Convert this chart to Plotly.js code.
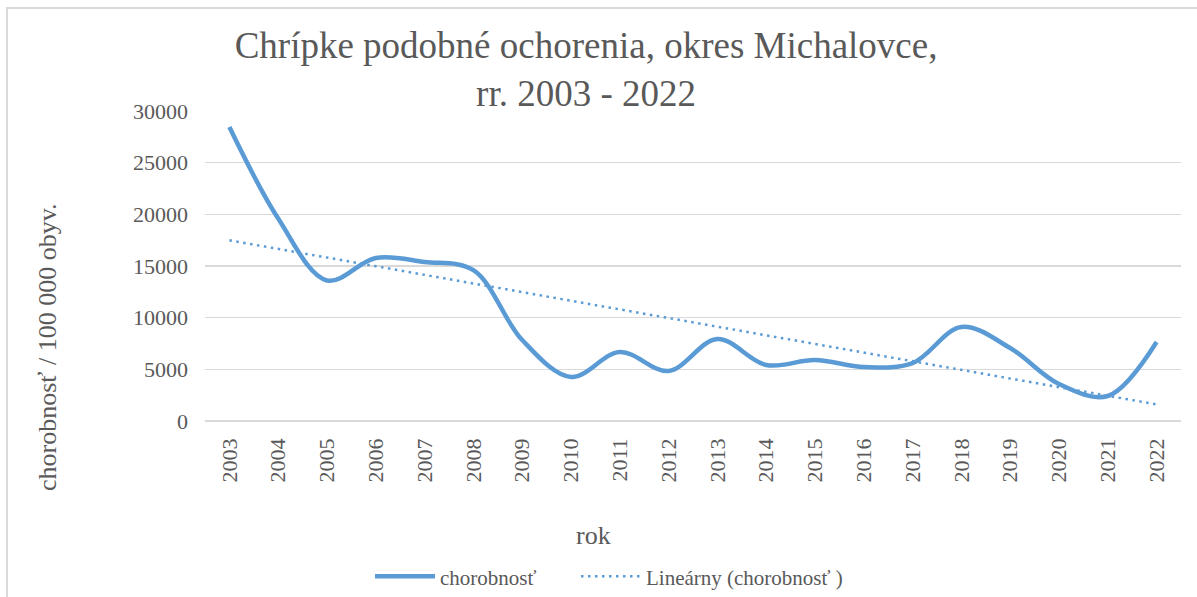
<!DOCTYPE html>
<html>
<head>
<meta charset="utf-8">
<script src="https://cdn.plot.ly/plotly-3.0.1.min.js"></script>
<style>
html,body{margin:0;padding:0;background:#fff;overflow:hidden;}
#wrap{position:relative;width:1197px;height:597px;}
#chart{width:1197px;height:597px;}
#frame{position:absolute;left:6px;top:7px;width:1300px;height:700px;border:2px solid #d9d9d9;pointer-events:none;}
</style>
</head>
<body>
<div id="wrap"><div id="chart"></div><div id="frame"></div></div>
<script>
const years = ['2003','2004','2005','2006','2007','2008','2009','2010','2011','2012','2013','2014','2015','2016','2017','2018','2019','2020','2021','2022'];
const chorobnost = [28450,19600,13600,15770,15390,14600,7840,4260,6680,4840,7935,5420,5900,5225,5600,9100,7060,3580,2420,7645];
const yTicks = [0,5000,10000,15000,20000,25000,30000];
const xTitle = 'rok';
const yTitle = 'chorobnosť / 100 000 obyv.';

// linear trend (least squares) of the series, as Excel's "Lineárny" trendline
const n = chorobnost.length;
const xs = chorobnost.map((_, i) => i + 1);
const mx = xs.reduce((a, b) => a + b, 0) / n;
const my = chorobnost.reduce((a, b) => a + b, 0) / n;
let sxy = 0, sxx = 0;
for (let i = 0; i < n; i++) { sxy += (xs[i] - mx) * (chorobnost[i] - my); sxx += (xs[i] - mx) * (xs[i] - mx); }
const slope = sxy / sxx, intercept = my - slope * mx;
const trend = xs.map(x => intercept + slope * x);

const serif = 'Liberation Serif';
const grey = '#595959';
const blue = '#5b9bd5';

const data = [
  {x: years, y: chorobnost, type: 'scatter', mode: 'lines', name: 'chorobnosť', legend: 'legend',
   line: {color: blue, width: 4.5, shape: 'spline', smoothing: 1}},
  {x: years, y: trend, type: 'scatter', mode: 'lines', name: 'Lineárny (chorobnosť )', legend: 'legend2',
   line: {color: blue, width: 2.5, dash: '2.5px,4.5px'}}
];

const legendBase = {orientation: 'h', xref: 'container', yref: 'container', xanchor: 'left',
  y: 0.034, yanchor: 'middle', font: {family: serif, size: 21, color: grey},
  itemwidth: 60, bgcolor: 'rgba(0,0,0,0)'};

const layout = {
  width: 1197, height: 597,
  margin: {l: 205, r: 16, t: 111, b: 176},
  paper_bgcolor: '#fff', plot_bgcolor: '#fff',
  font: {family: serif, color: grey},
  title: {text: 'Chrípke podobné ochorenia, okres Michalovce,<br>rr. 2003 - 2022',
          font: {family: serif, size: 37, color: grey},
          xref: 'container', x: 0.4896, xanchor: 'center',
          yref: 'container', y: 0.903, yanchor: 'top'},
  xaxis: {type: 'category', range: [-0.5, 19.5], tickangle: -90,
          tickfont: {family: serif, size: 22, color: grey},
          showgrid: false, showline: false, zeroline: false, ticks: '',
          ticklabelstandoff: 12, automargin: false},
  yaxis: {range: [0, 30000], tickvals: yTicks, ticktext: yTicks.map(String),
          tickfont: {family: serif, size: 22, color: grey},
          showgrid: true, gridcolor: '#d9d9d9', gridwidth: 1.3,
          zeroline: true, zerolinecolor: '#d9d9d9', zerolinewidth: 1.3,
          showline: false, ticks: '', ticklabelstandoff: 16, automargin: false},
  annotations: [
    {text: xTitle, xref: 'paper', yref: 'paper', x: (593 - 205) / 976, y: -(535 - 421) / 310,
     xanchor: 'center', yanchor: 'middle', showarrow: false,
     font: {family: serif, size: 26, color: grey}},
    {text: yTitle, xref: 'paper', yref: 'paper', x: (47 - 205) / 976, y: -(348 - 421) / 310,
     xanchor: 'center', yanchor: 'middle', showarrow: false, textangle: -90,
     font: {family: serif, size: 26, color: grey}}
  ],
  showlegend: true,
  legend: Object.assign({}, legendBase, {x: 370 / 1197}),
  legend2: Object.assign({}, legendBase, {x: 576 / 1197})
};

Plotly.newPlot('chart', data, layout, {displayModeBar: false, staticPlot: true});
</script>
</body>
</html>
